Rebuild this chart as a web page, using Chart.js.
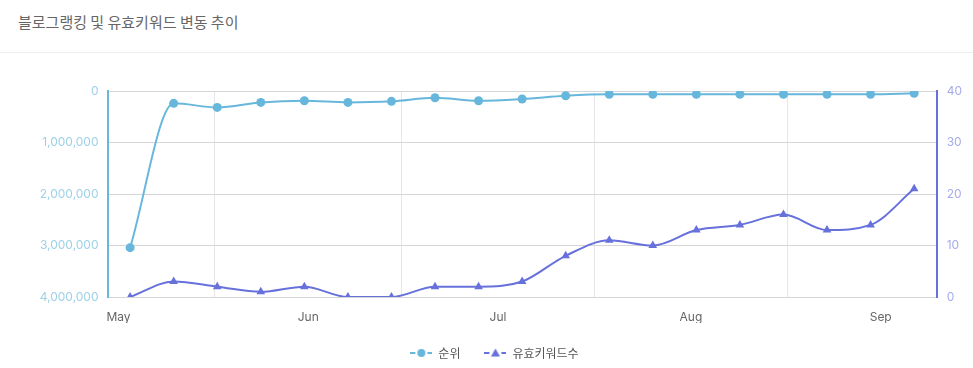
<!DOCTYPE html>
<html><head><meta charset="utf-8">
<script src="https://cdn.jsdelivr.net/npm/chart.js@4"></script>
<style>
html,body{margin:0;padding:0;width:973px;height:368px;overflow:hidden;background:#fff;}
#title{position:absolute;left:18px;top:12px;font-family:"Noto Sans CJK KR","Noto Sans",sans-serif;font-size:15px;color:#666;line-height:20px;}
#sep{position:absolute;left:0;top:52px;width:973px;height:1px;background:#eeeeee;}
#wrap{position:absolute;left:16px;top:56px;width:957px;height:313px;}
</style></head><body>
<div id="title">블로그랭킹 및 유효키워드 변동 추이</div>
<div id="sep"></div>
<div id="wrap"><canvas id="c"></canvas></div>
<script>
// ---- data ----
const dates = ['2023-05-18','2023-05-25','2023-06-01','2023-06-08','2023-06-15','2023-06-22','2023-06-29',
  '2023-07-06','2023-07-13','2023-07-20','2023-07-27','2023-08-03','2023-08-10','2023-08-17','2023-08-24',
  '2023-08-31','2023-09-07','2023-09-14','2023-09-21'];
const rankValues = [3042000, 240000, 318000, 221000, 190000, 221000, 201000, 131000, 190000, 156000,
  92000, 64000, 64000, 64000, 64000, 64000, 64000, 64000, 45000];
const keywordCounts = [0, 3, 2, 1, 2, 0, 0, 2, 2, 3, 8, 11, 10, 13, 14, 16, 13, 14, 21];
const seriesNames = ['순위', '유효키워드수'];
const monthLabels = ['May', 'Jun', 'Jul', 'Aug', 'Sep'];
const monthStarts = ['2023-05-01', '2023-06-01', '2023-07-01', '2023-08-01', '2023-09-01', '2023-10-01'];
const rankTicks = [0, 1000000, 2000000, 3000000, 4000000];
const keywordTicks = [0, 10, 20, 30, 40];

// ---- helpers ----
const DAY = 86400000;
const origin = Date.UTC(2023, 4, 1);
const toDay = s => { const [y, m, d] = s.split('-').map(Number); return (Date.UTC(y, m - 1, d) - origin) / DAY; };
const TZ = 9 / 24; // points are plotted at local (KST) time
const xs = dates.map(d => toDay(d) + TZ);
const starts = monthStarts.map(toDay);
const gridTicks = starts.slice(1, 5);                     // month boundaries
const labelTicks = monthLabels.map((m, i) => (starts[i] + starts[i + 1]) / 2);
const labelMap = new Map(labelTicks.map((v, i) => [v, monthLabels[i]]));

const C1 = '#67b7dc', C2 = '#6771dc';

function legendIcon(color, shape) {
  const c = document.createElement('canvas');
  c.width = 22; c.height = 12;
  const g = c.getContext('2d');
  g.strokeStyle = color; g.lineWidth = 2;
  g.beginPath(); g.moveTo(0, 6); g.lineTo(5, 6); g.moveTo(17, 6); g.lineTo(22, 6); g.stroke();
  g.fillStyle = color;
  g.beginPath();
  if (shape === 'circle') { g.arc(11, 6, 4, 0, Math.PI * 2); }
  else { g.moveTo(11, 1.5); g.lineTo(15.5, 9.5); g.lineTo(6.5, 9.5); g.closePath(); }
  g.fill();
  return c;
}
const icons = [legendIcon(C1, 'circle'), legendIcon(C2, 'triangle')];

new Chart(document.getElementById('c'), {
  type: 'line',
  data: {
    datasets: [
      {
        label: seriesNames[0], yAxisID: 'y',
        data: xs.map((x, i) => ({ x, y: rankValues[i] })),
        borderColor: C1, backgroundColor: C1, borderWidth: 2,
        pointRadius: 4.5, pointBorderWidth: 0, pointStyle: 'circle',
        cubicInterpolationMode: 'monotone'
      },
      {
        label: seriesNames[1], yAxisID: 'y1',
        data: xs.map((x, i) => ({ x, y: keywordCounts[i] })),
        borderColor: C2, backgroundColor: C2, borderWidth: 2,
        pointRadius: 5, pointBorderWidth: 0, pointStyle: 'triangle',
        cubicInterpolationMode: 'monotone'
      }
    ]
  },
  options: {
    responsive: true, maintainAspectRatio: false, animation: false,
    layout: { padding: { top: 35, left: 0, right: 0, bottom: 0 } },
    plugins: {
      tooltip: { enabled: false },
      legend: {
        position: 'bottom',
        labels: {
          usePointStyle: true, pointStyleWidth: 22, padding: 24,
          color: '#555', font: { family: '"Noto Sans CJK KR"', size: 12 },
          generateLabels(chart) {
            const items = Chart.defaults.plugins.legend.labels.generateLabels(chart);
            items.forEach((it, i) => { it.pointStyle = icons[i]; });
            return items;
          }
        }
      }
    },
    scales: {
      x: {
        type: 'linear', min: 13.74, max: 147.0,
        afterBuildTicks(s) { s.ticks = [...gridTicks, ...labelTicks].sort((a, b) => a - b).map(v => ({ value: v })); },
        afterFit(s) { s.height = 26; },
        grid: {
          drawTicks: false,
          color: ctx => (ctx.tick && labelMap.has(ctx.tick.value)) ? 'rgba(0,0,0,0)' : '#e6e6e6'
        },
        border: { display: false },
        ticks: {
          autoSkip: false, maxRotation: 0, padding: 13, color: '#666',
          font: { family: 'Inter', size: 12 },
          callback: v => labelMap.get(v) || ''
        }
      },
      y: {
        position: 'left', reverse: true, min: 0, max: 4000000,
        afterBuildTicks(s) { s.ticks = rankTicks.map(v => ({ value: v })); },
        afterFit(s) { s.width = 91.5; },
        grid: { drawTicks: false, color: '#d6d6d6' },
        border: { color: C1, width: 2 },
        ticks: {
          padding: 9, color: 'rgba(103,183,220,0.65)',
          font: { family: 'Inter', size: 12 },
          callback: v => v.toLocaleString('en-US')
        }
      },
      y1: {
        position: 'right', min: 0, max: 40,
        afterBuildTicks(s) { s.ticks = keywordTicks.map(v => ({ value: v })); },
        afterFit(s) { s.width = 36.3; },
        grid: { display: false, drawTicks: false },
        border: { color: C2, width: 2 },
        ticks: {
          padding: 10, color: 'rgba(103,113,220,0.6)',
          font: { family: 'Inter', size: 12 }
        }
      }
    }
  }
});
</script>
</body></html>
